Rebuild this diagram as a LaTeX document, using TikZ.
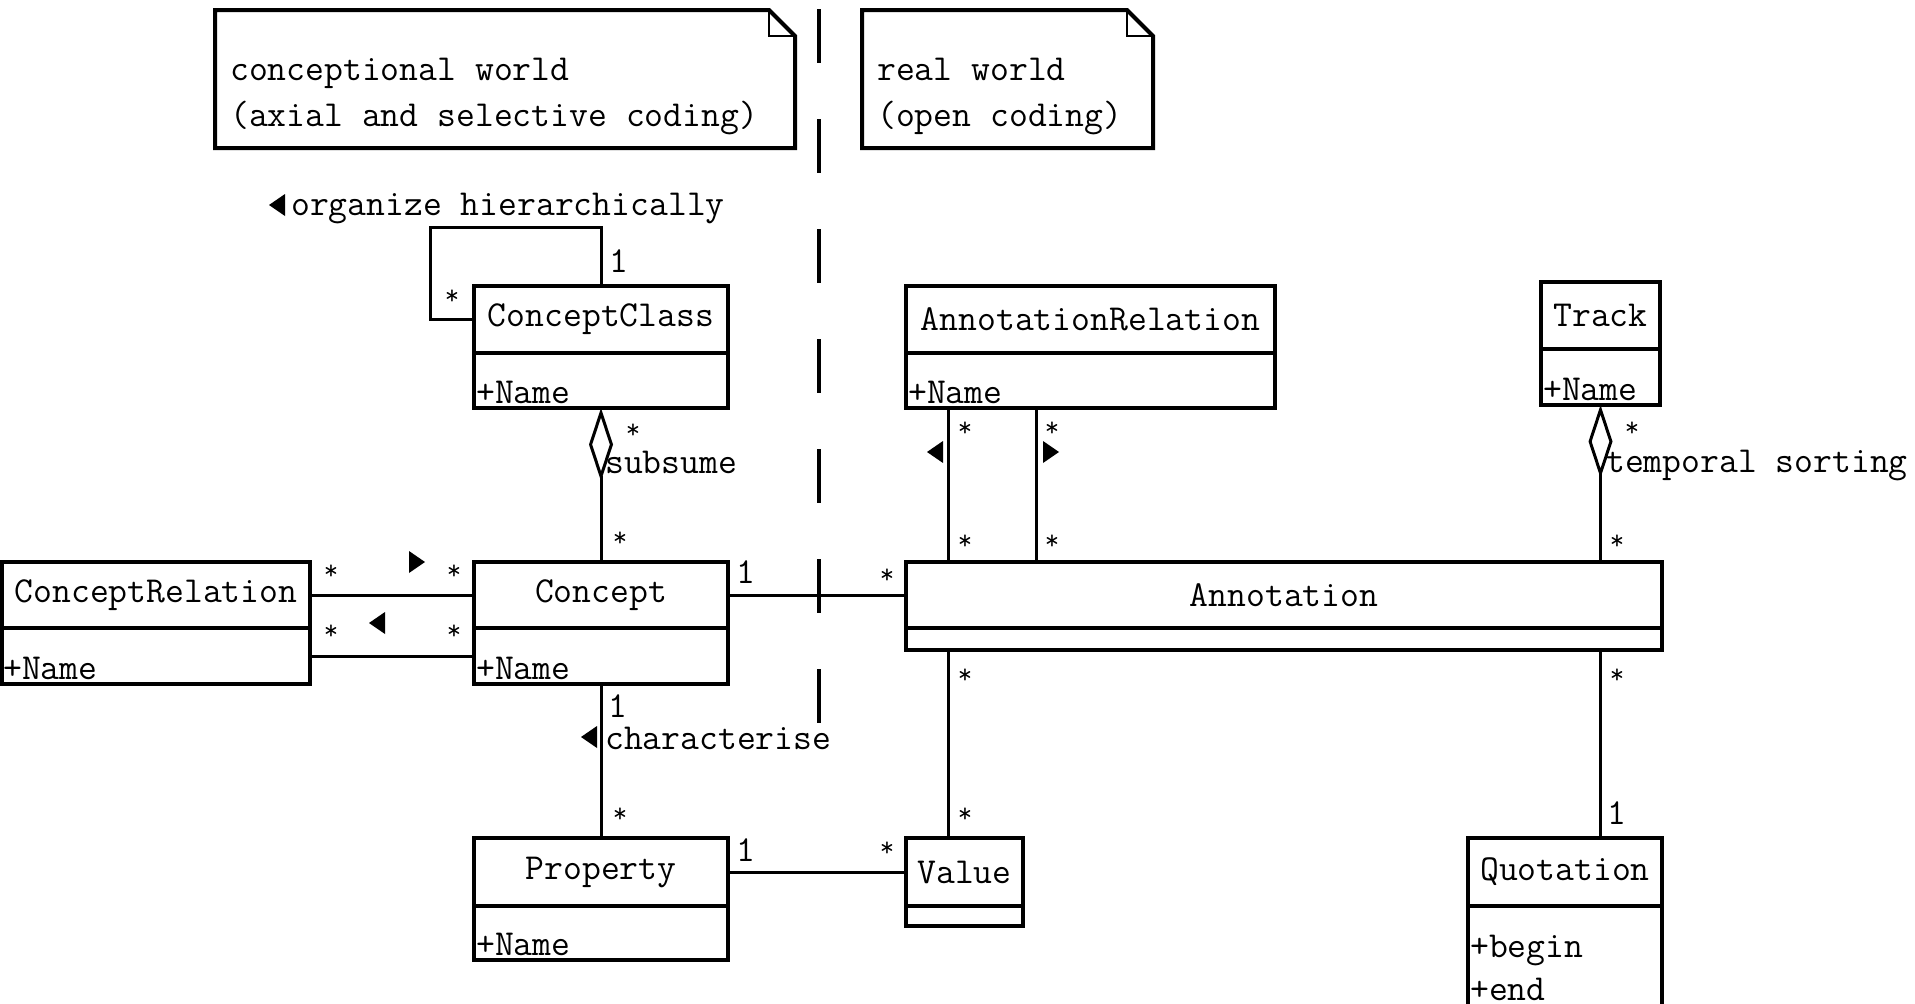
\documentclass[tikz,border=0pt]{standalone}
\usepackage{fontspec}
\usetikzlibrary{positioning,arrows.meta}

\tikzset{
  pics/dirl/.style={code={\fill (8,-11) -- (8,11) -- (-8,0) -- cycle;}},
  pics/dirr/.style={code={\fill (-8,-11) -- (-8,11) -- (8,0) -- cycle;}}
}

\begin{document}
\begin{tikzpicture}[x=1pt, y=-1pt, font=\ttfamily\fontsize{36.6}{46}\selectfont,
    box/.style={draw, line width=4pt, inner sep=0pt, outer sep=0pt},
    head/.style={box, anchor=north west},
    body/.style={box, below=0pt of #1},
    attr/.style={anchor=base west, inner sep=0pt},
    conn/.style={line width=3pt},
    aggr/.style={-{Diamond[open, length=73pt, width=24pt]}},
    mult/.style={inner sep=0pt},
    star/.style={mult, yshift=-4pt, font=\ttfamily\fontsize{28}{34}\selectfont},
    tag/.style={anchor=mid west, inner sep=0pt},
    notebox/.style={anchor=north west, inner sep=0pt, outer sep=0pt},
    noteline/.style={line width=4pt, line join=miter},
    notetext/.style={anchor=base west, align=left, inner sep=0pt},
    worldsep/.style={line width=4pt, dash pattern=on 54pt off 56pt}]
  \path[fill=white, use as bounding box] (0,0) rectangle (1915,1004);

  \node[notebox, minimum width=580pt, minimum height=138pt] (cworld) at (215,10) {};
  \draw[noteline] (cworld.north west) -- ([xshift=-26pt]cworld.north east) -- ([yshift=-26pt]cworld.north east) -- (cworld.south east) -- (cworld.south west) -- cycle;
  \draw[line width=2pt] ([xshift=-26pt]cworld.north east) |- ([yshift=-26pt]cworld.north east);
  \node[notetext] (cworld-t) at (230,126) {conceptional world\\(axial and selective coding)};

  \node[notebox, minimum width=291pt, minimum height=138pt] (rworld) at (862,10) {};
  \draw[noteline] (rworld.north west) -- ([xshift=-26pt]rworld.north east) -- ([yshift=-26pt]rworld.north east) -- (rworld.south east) -- (rworld.south west) -- cycle;
  \draw[line width=2pt] ([xshift=-26pt]rworld.north east) |- ([yshift=-26pt]rworld.north east);
  \node[notetext] (rworld-t) at (877,126) {real world\\(open coding)};

  \draw[worldsep] (819,9) -- (819,725);

  \node[head, minimum width=254pt, minimum height=67pt] (conceptclass) at (474,286) {ConceptClass};
  \node[body=conceptclass, minimum width=254pt, minimum height=55pt] (conceptclass-a) {};
  \node[attr] (conceptclass-t) at ([shift={(2,-5)}]conceptclass-a.south west) {+Name};

  \node[head, minimum width=254pt, minimum height=66pt] (concept) at (474,562) {Concept};
  \node[body=concept, minimum width=254pt, minimum height=56pt] (concept-a) {};
  \node[attr] (concept-t) at ([shift={(2,-5)}]concept-a.south west) {+Name};

  \node[head, minimum width=308pt, minimum height=66pt] (conceptrel) at (2,562) {ConceptRelation};
  \node[body=conceptrel, minimum width=308pt, minimum height=56pt] (conceptrel-a) {};
  \node[attr] (conceptrel-t) at ([shift={(1,-5)}]conceptrel-a.south west) {+Name};

  \node[head, minimum width=254pt, minimum height=68pt] (property) at (474,838) {Property};
  \node[body=property, minimum width=254pt, minimum height=54pt] (property-a) {};
  \node[attr] (property-t) at ([shift={(2,-5)}]property-a.south west) {+Name};

  \node[head, minimum width=117pt, minimum height=68pt] (value) at (906,838) {Value};
  \node[body=value, minimum width=117pt, minimum height=20pt] (value-a) {};

  \node[head, minimum width=756pt, minimum height=66pt] (annotation) at (906,562) {Annotation};
  \node[body=annotation, minimum width=756pt, minimum height=22pt] (annotation-a) {};

  \node[head, minimum width=369pt, minimum height=67pt] (annrel) at (906,286) {AnnotationRelation};
  \node[body=annrel, minimum width=369pt, minimum height=55pt] (annrel-a) {};
  \node[attr] (annrel-t) at ([shift={(2,-5)}]annrel-a.south west) {+Name};

  \node[head, minimum width=119pt, minimum height=67pt] (track) at (1541,282) {Track};
  \node[body=track, minimum width=119pt, minimum height=56pt] (track-a) {};
  \node[attr] (track-t) at ([shift={(2,-5)}]track-a.south west) {+Name};

  \node[head, minimum width=194pt, minimum height=68pt] (quotation) at (1468,838) {Quotation};
  \node[body=quotation, minimum width=194pt, minimum height=180pt] (quotation-a) {};
  \node[attr] (quotation-t1) at ([shift={(2,51)}]quotation-a.north west) {+begin};
  \node[attr] (quotation-t2) at ([shift={(2,94)}]quotation-a.north west) {+end};

  \coordinate (loop) at (430,227);
  \draw[conn] (conceptclass.north) |- (loop) |- (conceptclass.west);
  \draw[conn, aggr] (concept.north) -- (conceptclass-a.south);
  \draw[conn] (conceptrel.east) -- (concept.west);
  \draw[conn] (conceptrel-a.east) -- (concept-a.west);
  \draw[conn] (concept.east) -- (annotation.west);
  \draw[conn] (concept-a.south) -- (property.north);
  \draw[conn] (property.east) -- (value.west);
  \draw[conn] ([xshift=42pt]annrel-a.south west) -- ([xshift=42pt]annotation.north west);
  \draw[conn] ([xshift=130pt]annrel-a.south west) -- ([xshift=130pt]annotation.north west);
  \draw[conn, aggr] (annotation.north -| track-a.south) -- (track-a.south);
  \draw[conn] ([xshift=42pt]annotation-a.south west) -- ([xshift=42pt]value.north west);
  \draw[conn] (annotation-a.south -| track.south) -- (quotation.north -| track.south);

  \foreach \x/\y [count=\i] in {452/293, 633/427, 620/535, 331/568, 454/568, 331/628, 454/628,
      887/572, 965/425, 1052/425, 965/538, 1052/538, 1632/425, 1617/538,
      965/672, 965/811, 1617/672, 620/811, 887/845}
    \node[star] (star\i) at (\x,\y) {*};
  \foreach \x/\y [count=\i] in {619/261, 746/572, 618/706, 1617/813, 746/850}
    \node[mult] (one\i) at (\x,\y) {1};

  \node[tag] (organize) at (291,213) {organize hierarchically};
  \node[tag] (subsume) at (605,471) {subsume};
  \node[tag] (sorting) at (1606,470) {temporal sorting};
  \node[tag] (characterise) at (605,747) {characterise};

  \pic at (277,205) {dirl};
  \pic at (417,562) {dirr};
  \pic at (377,623) {dirl};
  \pic at (935,452) {dirl};
  \pic at (1051,452) {dirr};
  \pic at (589,737) {dirl};
\end{tikzpicture}
\end{document}
